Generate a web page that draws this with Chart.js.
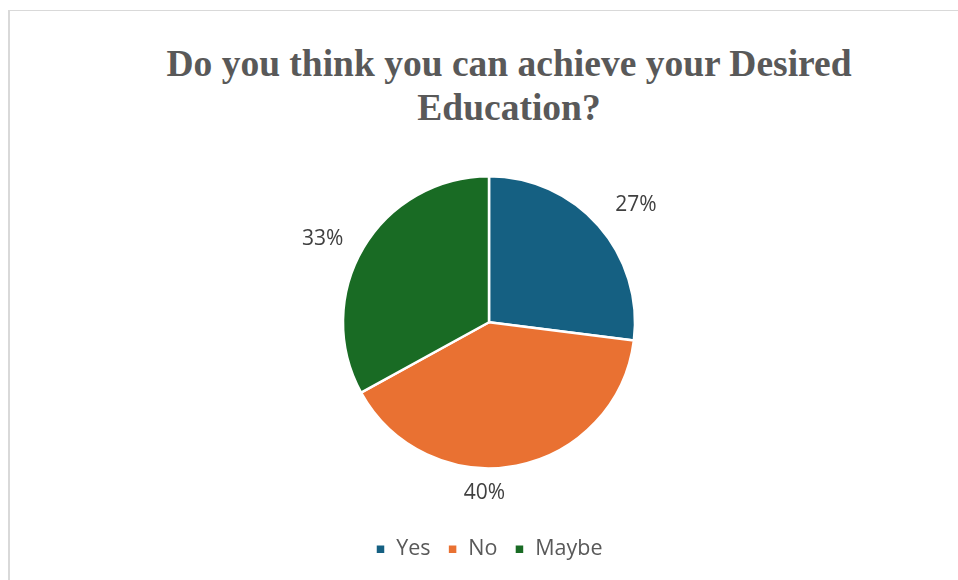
<!DOCTYPE html>
<html>
<head>
<meta charset="utf-8">
<script src="https://cdn.jsdelivr.net/npm/chart.js@4.4.1/dist/chart.umd.min.js"></script>
<style>
  html, body { margin: 0; padding: 0; background: #fff; overflow: hidden; }
  body { width: 958px; height: 580px; position: relative; }
  #frame {
    position: absolute; left: 8px; top: 10px; width: 1100px; height: 700px;
    border-top: 1px solid #d9d9d9; border-left: 2px solid #d9d9d9;
  }
  #title {
    position: absolute; left: 0; top: 42px; width: 1018px; margin: 0;
    text-align: center; font-family: "Liberation Serif", "Times New Roman", serif;
    font-weight: bold; font-size: 37.5px; line-height: 44px; color: #595959;
  }
  #wrap { position: absolute; left: 0; top: 117px; width: 978px; height: 463px; }
</style>
</head>
<body>
<div id="frame"></div>
<h1 id="title">Do you think you can achieve your Desired<br>Education?</h1>
<div id="wrap"><canvas id="pie"></canvas></div>
<script>
const answers = ["Yes", "No", "Maybe"];
const shares = [27, 40, 33];
const sliceColors = ["#156082", "#E97132", "#196B24"];

// percentage labels sit outside each slice, a little past the rim
const outsideLabels = {
  id: "outsideLabels",
  afterDatasetsDraw(chart, args, opts) {
    const ctx = chart.ctx;
    const arcs = chart.getDatasetMeta(0).data;
    const values = chart.data.datasets[0].data;
    const total = values.reduce((a, b) => a + b, 0);
    ctx.save();
    ctx.font = opts.font;
    ctx.fillStyle = opts.color;
    ctx.textAlign = "center";
    ctx.textBaseline = "middle";
    arcs.forEach((arc, i) => {
      const p = arc.getProps(["x", "y", "startAngle", "endAngle", "outerRadius"], true);
      const mid = (p.startAngle + p.endAngle) / 2;
      const d = p.outerRadius + opts.gap;
      const nudge = opts.nudge[i] || [0, 0];
      const x = p.x + Math.cos(mid) * d + nudge[0];
      const y = p.y + Math.sin(mid) * d + nudge[1];
      ctx.fillText(Math.round(values[i] / total * 100) + "%", x, y);
    });
    ctx.restore();
  },
};

new Chart(document.getElementById("pie"), {
  type: "pie",
  data: {
    labels: answers,
    datasets: [
      {
        data: shares,
        backgroundColor: sliceColors,
        borderColor: "#ffffff",
        borderWidth: 2.5,
        radius: 146,
      },
    ],
  },
  options: {
    responsive: true,
    maintainAspectRatio: false,
    animation: false,
    layout: { padding: { top: 6, bottom: 10, left: 0, right: 0 } },
    plugins: {
      title: { display: false },
      tooltip: { enabled: false },
      legend: {
        position: "bottom",
        labels: {
          boxWidth: 10,
          boxHeight: 10,
          padding: 17,
          color: "#595959",
          font: { family: "'Open Sans', sans-serif", size: 21.5 },
        },
      },
      outsideLabels: {
        font: "21px 'Open Sans', sans-serif",
        color: "#404040",
        gap: 38,
        nudge: [[9, 4], [-39, -10], [-8, 10]],
      },
    },
  },
  plugins: [outsideLabels],
});
</script>
</body>
</html>
